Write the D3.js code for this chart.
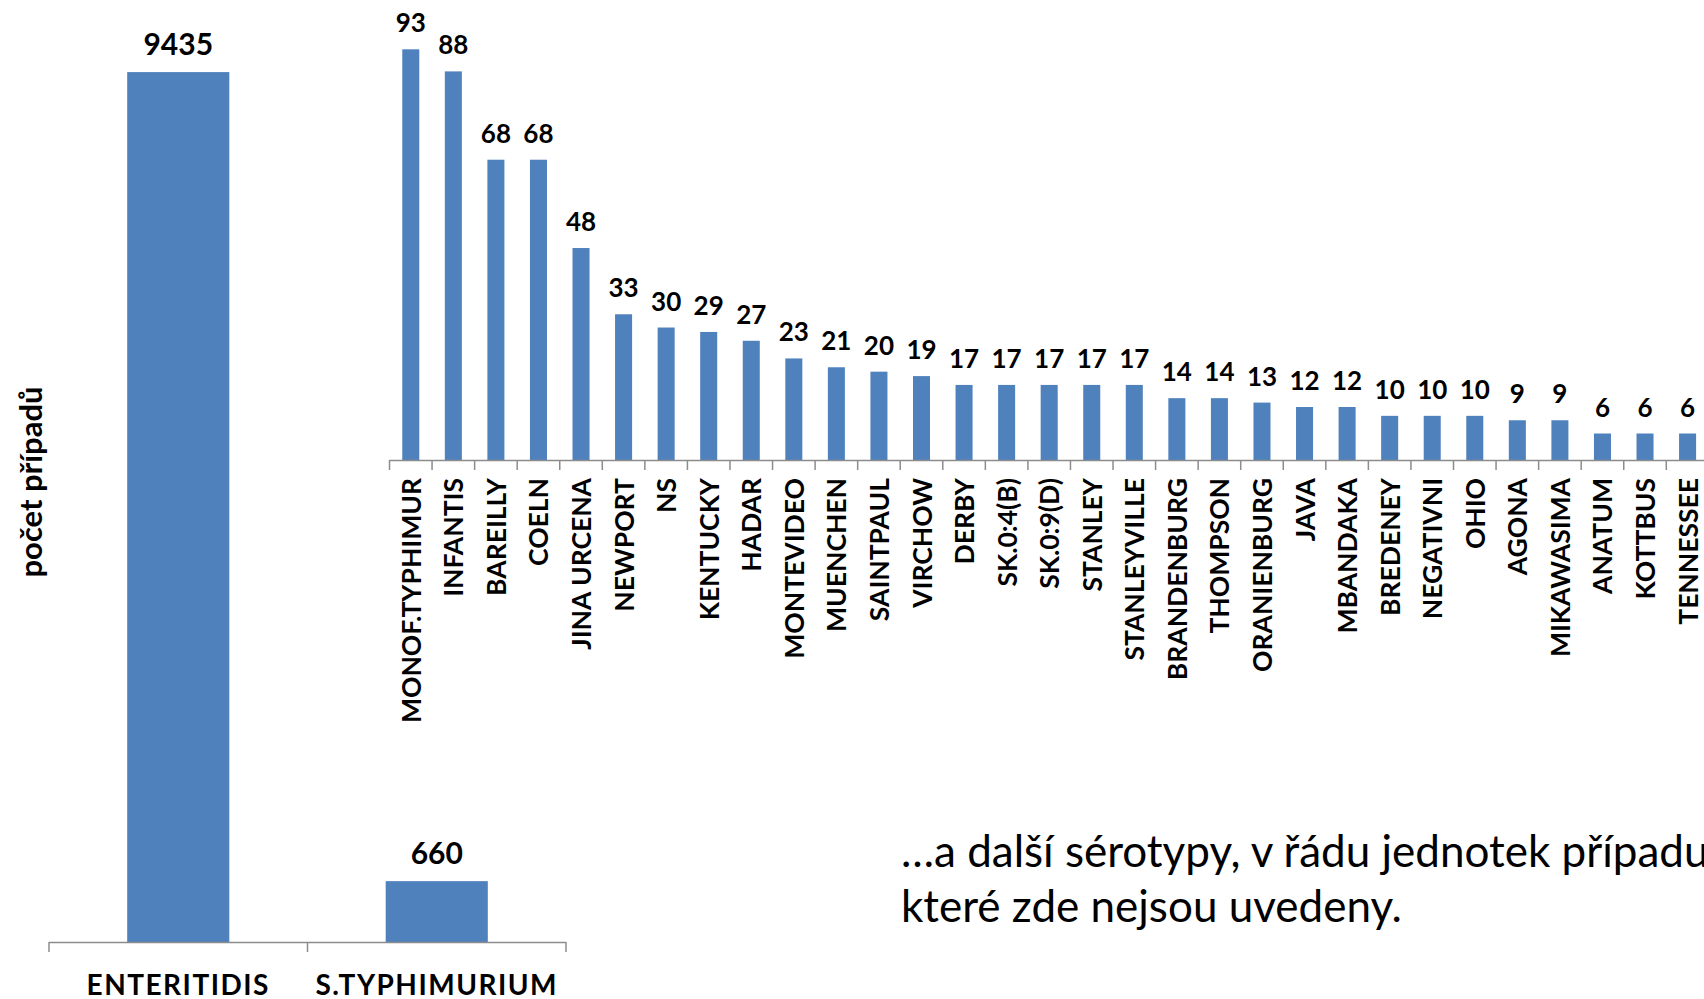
<!DOCTYPE html>
<html>
<head>
<meta charset="utf-8">
<script src="https://cdn.jsdelivr.net/npm/d3@7"></script>
<style>
  html, body { margin: 0; padding: 0; background: #fff; overflow: hidden; }
  svg { display: block; font-family: Lato, "Open Sans", sans-serif; }
</style>
</head>
<body>
<svg width="1704" height="999"></svg>
<script>
// main two serotypes
var bigCategories = ["ENTERITIDIS", "S.TYPHIMURIUM"];
var bigValues = [9435, 660];

// other serotypes
var categories = ["MONOF.TYPHIMUR", "INFANTIS", "BAREILLY", "COELN", "JINA URCENA", "NEWPORT", "NS",
  "KENTUCKY", "HADAR", "MONTEVIDEO", "MUENCHEN", "SAINTPAUL", "VIRCHOW", "DERBY", "SK.0:4(B)",
  "SK.0:9(D)", "STANLEY", "STANLEYVILLE", "BRANDENBURG", "THOMPSON", "ORANIENBURG", "JAVA",
  "MBANDAKA", "BREDENEY", "NEGATIVNI", "OHIO", "AGONA", "MIKAWASIMA", "ANATUM", "KOTTBUS", "TENNESSEE"];
var values = [93, 88, 68, 68, 48, 33, 30, 29, 27, 23, 21, 20, 19, 17, 17, 17, 17, 17, 14, 14, 13,
  12, 12, 10, 10, 10, 9, 9, 6, 6, 6];

var yTitle = "počet případů";
var noteLines = ["…a další sérotypy, v řádu jednotek případu,", "které zde nejsou uvedeny."];

var barColor = "#4f81bd", axisColor = "#8c8c8c";
var svg = d3.select("svg");

function drawChart(cats, vals, opt) {
  var x = d3.scaleBand().domain(cats).range([opt.x0, opt.x1])
    .paddingInner(opt.pad).paddingOuter(opt.pad / 2);
  var y = d3.scaleLinear().domain([0, opt.max]).range([opt.base, opt.top]);
  var g = svg.append("g");

  var data = cats.map(function(c, i) { return {c: c, v: vals[i]}; });

  g.selectAll("rect").data(data).enter().append("rect")
    .attr("x", function(d) { return x(d.c); })
    .attr("y", function(d) { return y(d.v); })
    .attr("width", x.bandwidth())
    .attr("height", function(d) { return opt.base - y(d.v); })
    .attr("fill", barColor);

  g.selectAll(".val").data(data).enter().append("text")
    .attr("class", "val")
    .attr("x", function(d) { return x(d.c) + x.bandwidth() / 2; })
    .attr("y", function(d) { return y(d.v) - 17; })
    .attr("text-anchor", "middle")
    .attr("font-weight", "bold")
    .attr("font-size", opt.valSize)
    .text(function(d) { return d.v; });

  // axis line + tick marks between categories
  var ax = g.append("g").attr("transform", "translate(0," + opt.base + ")");
  var gap = (x.step() - x.bandwidth()) / 2;
  var bounds = cats.map(function(c) { return x(c) - gap; }).concat([x(cats[cats.length - 1]) + x.bandwidth() + gap]);
  ax.append("line").attr("x1", opt.x0).attr("x2", opt.x1).attr("y1", 0.5).attr("y2", 0.5)
    .attr("stroke", axisColor).attr("stroke-width", 1.5);
  ax.selectAll(".tk").data(bounds).enter().append("line")
    .attr("x1", function(d) { return d; }).attr("x2", function(d) { return d; })
    .attr("y1", 0).attr("y2", 10)
    .attr("stroke", axisColor).attr("stroke-width", 1.5);

  // category labels
  var labels = ax.selectAll(".lab").data(cats).enter().append("text")
    .attr("font-weight", "bold")
    .attr("font-size", opt.labSize)
    .attr("letter-spacing", opt.spacing || 0)
    .text(function(d) { return d; });
  if (opt.rotate) {
    labels.attr("text-anchor", "end")
      .attr("transform", function(d) {
        return "translate(" + (x(d) + x.bandwidth() / 2 + 10) + "," + 18 + ") rotate(-90)";
      });
  } else {
    labels.attr("text-anchor", "middle")
      .attr("x", function(d) { return x(d) + x.bandwidth() / 2; })
      .attr("y", 53);
  }
}

drawChart(bigCategories, bigValues, {
  x0: 49, x1: 566, pad: 0.605, max: 10000, base: 942, top: 20,
  valSize: 30, labSize: 28, spacing: 1.5, rotate: false
});

var step = 42.56;
drawChart(categories, values, {
  x0: 389.5, x1: 389.5 + step * categories.length, pad: 0.6, max: 100, base: 460, top: 18.4,
  valSize: 26, labSize: 26.5, rotate: true
});

svg.append("text")
  .attr("transform", "translate(42,482) rotate(-90)")
  .attr("text-anchor", "middle")
  .attr("font-weight", "bold")
  .attr("font-size", 31)
  .text(yTitle);

svg.append("g").selectAll("text").data(noteLines).enter().append("text")
  .attr("x", 901)
  .attr("y", function(d, i) { return 867 + i * 55; })
  .attr("font-size", 44)
  .text(function(d) { return d; });
</script>
</body>
</html>
